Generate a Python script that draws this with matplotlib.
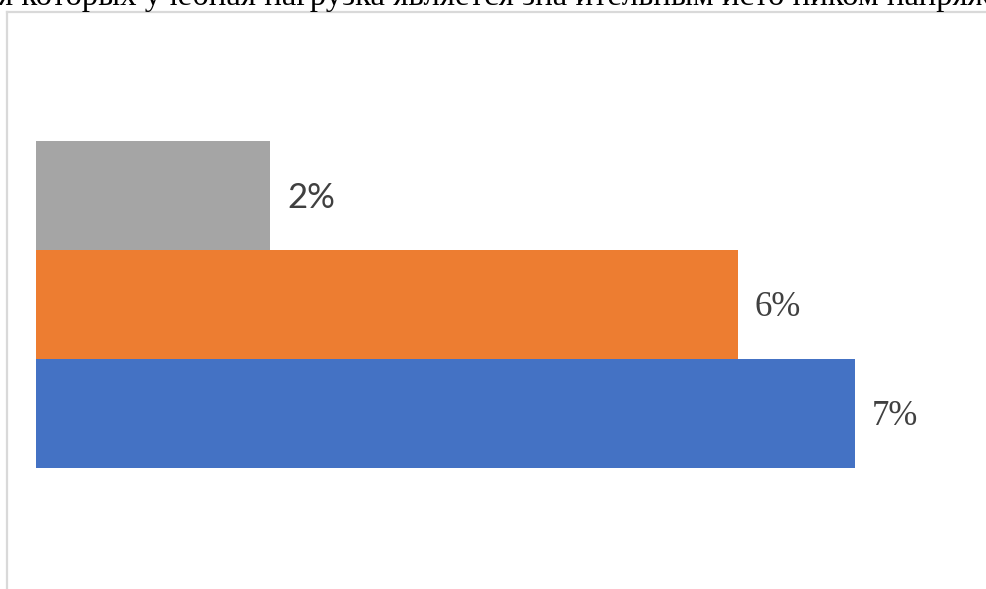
import matplotlib
matplotlib.use("Agg")
from matplotlib import pyplot as plt
from matplotlib.lines import Line2D

# data, bottom to top
categories = ["a", "b", "c"]
values = [7, 6, 2]
labels = ["7%", "6%", "2%"]
colors = ["#4472c4", "#ed7d31", "#a5a5a5"]
title_text = "я которых учебная нагрузка является зна ительным исто ником напряж"

W, H = 987, 589
fig = plt.figure(figsize=(W / 100, H / 100), dpi=100)
ax = fig.add_axes([0, 0, 1, 1])

# scale: value 0 at x=36px, 117px per percent; bars 109px tall
px_x, px_y = 117.0, 109.0
ax.set_xlim(-36 / px_x, (W - 36) / px_x)
ax.set_ylim(-0.5 - (H - 468) / px_y, 2.5 + 141 / px_y)

pos = list(range(len(categories)))
ax.barh(pos, values, height=1.0, color=colors, linewidth=0)

# data labels: first two serif, the grey one sans like in the source
fonts = [["Liberation Serif"], ["Liberation Serif"], ["Lato"]]
for p, v, lab, fam in zip(pos, values, labels, fonts):
    ax.text(v + 17 / px_x, p - 3 / px_y, lab, va="center", ha="left",
            fontsize=25, color="#404040", family=fam)

ax.axis("off")

# chart frame (only left and top edges visible)
fig.add_artist(Line2D([7.5 / W, 7.5 / W], [0, 1 - 12 / H],
                      transform=fig.transFigure, color="#d9d9d9", lw=1.6))
fig.add_artist(Line2D([7 / W, 1], [1 - 12 / H, 1 - 12 / H],
                      transform=fig.transFigure, color="#d9d9d9", lw=1.6))

# half-cut title from the surrounding document
fig.text(-2 / W, 1 - 5.5 / H, title_text, ha="left", va="baseline",
         fontsize=23.6, color="black", family=["Liberation Serif"])

fig.savefig("out.png", dpi=100)
